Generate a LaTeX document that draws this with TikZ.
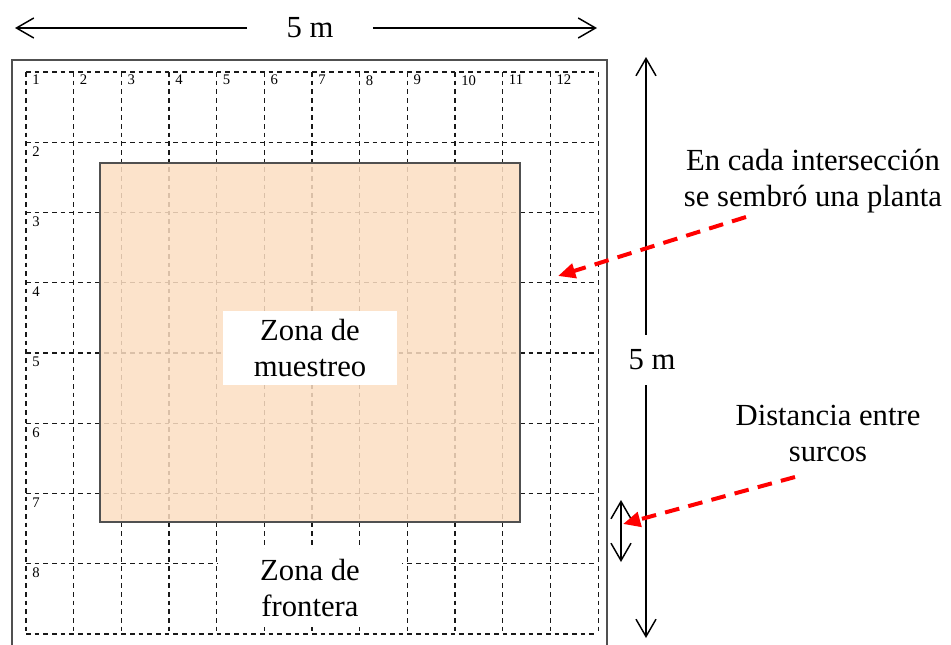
\documentclass[tikz,border=0pt]{standalone}
\usepackage{fontspec}
\setmainfont{Liberation Serif}
\usetikzlibrary{arrows.meta}
\definecolor{zonafill}{RGB}{252,222,194}
\definecolor{marco}{RGB}{80,80,80}
\tikzset{
  rejilla/.style={dash pattern=on 3.5pt off 3pt, line width=0.8pt, black!90},
  num/.style={anchor=north west, inner sep=0pt, font=\fontsize{11}{12}\selectfont},
  dim/.style={line width=1.1pt, -{Straight Barb[length=13pt,width=15pt,line width=1.1pt]}},
  ddim/.style={line width=1.1pt, {Straight Barb[length=13pt,width=15pt,line width=1.1pt]}-{Straight Barb[length=13pt,width=15pt,line width=1.1pt]}},
  etiqueta/.style={align=center, inner sep=0pt, font=\fontsize{23}{27}\selectfont},
  flecha/.style={red, line width=3pt, dash pattern=on 11pt off 7pt, -{Triangle[length=13pt,width=11pt]}},
}

\begin{document}
\begin{tikzpicture}[x=0.75pt,y=0.75pt,yscale=-1,xscale=1]
\useasboundingbox (0,0) rectangle (951,644);

% Outer plot
\draw[marco, line width=1.1pt] (12,650) -- (12,60) -- (607,60) -- (607,650);

% Grid of rows and columns
\foreach \i in {0,...,12}
  \draw[rejilla] ({26+47.67*\i},72) -- ({26+47.67*\i},634);
\foreach \j in {0,...,8}
  \draw[rejilla] (26,{72+70.25*\j}) -- (598,{72+70.25*\j});

% Column numbers
\foreach \c in {1,...,12}
  \node[num] (col\c) at ({32+47.67*(\c-1)},75) {\c};
% Row numbers
\foreach \r in {2,...,8}
  \node[num] (fila\r) at (32,{76+70.25*(\r-1)}) {\r};

% Sampling zone
\fill[zonafill, fill opacity=0.85] (100,163) rectangle (520,522);
\draw[marco, line width=0.8pt] (100,163) rectangle (520,522);

% Text Node
\node[etiqueta, fill=white, minimum width=131pt, minimum height=55pt] (muestreo) at (310,348) {Zona de\\muestreo};
% Text Node
\node[etiqueta, fill=white, minimum width=138pt, minimum height=59pt] (frontera) at (310,588) {Zona de\\frontera};

% Width dimension
\node[etiqueta, minimum width=94pt] (anchotxt) at (310,28) {5 m};
\coordinate (anchoizq) at (15,28);
\coordinate (anchoder) at (597,28);
\draw[dim] (anchotxt) -- (anchoizq);
\draw[dim] (anchotxt) -- (anchoder);

% Length dimension
\node[etiqueta, minimum height=37.5pt] (largotxt) at (652,360) {5 m};
\coordinate (largoarr) at (646,57);
\coordinate (largoaba) at (646,638);
\draw[dim] (largotxt.north -| largoarr) -- (largoarr);
\draw[dim] (largotxt.south -| largoaba) -- (largoaba);

% Row spacing
\coordinate (surcoarr) at (621,500);
\coordinate (surcoaba) at (621,562);
\draw[ddim] (surcoarr) -- (surcoaba);

% Text Node
\node[etiqueta] (planta) at (813,181) {En cada intersección\\se sembró una planta};
% Text Node
\node[etiqueta] (surcos) at (828,433) {Distancia entre\\surcos};

% Connection
\coordinate (plantaini) at (746,217);
\coordinate (plantafin) at (558,276);
\draw[flecha] (plantaini) -- (plantafin);
% Connection
\coordinate (surcosini) at (795,477);
\coordinate (surcosfin) at (623,524);
\draw[flecha] (surcosini) -- (surcosfin);

\end{tikzpicture}
\end{document}
